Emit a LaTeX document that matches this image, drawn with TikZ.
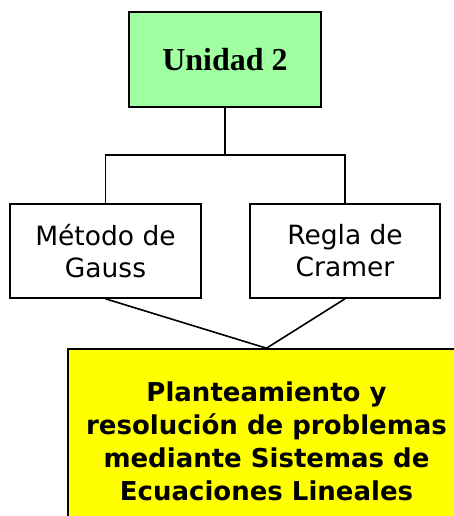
\documentclass[tikz,border=0pt]{standalone}
\usepackage{fontspec}
\setmainfont{DejaVu Sans}
\newfontfamily\unidadfont{Liberation Serif}
\definecolor{boxgreen}{RGB}{160,255,160}
\definecolor{boxyellow}{RGB}{255,255,0}
\begin{document}
\begin{tikzpicture}[x=1pt,y=-1pt,
  box/.style={draw=black, line width=1.6pt, rectangle, inner sep=0pt, align=center},
  conn/.style={draw=black, line width=1.6pt},
  boxtext/.style={font=\fontsize{26.5}{32}\selectfont},
  bigtext/.style={font=\bfseries\fontsize{26}{33}\selectfont}]
\useasboundingbox (0,0) rectangle (454,516);
\fill[white] (0,0) rectangle (454,516);
\begin{scope}
\clip (0,0) rectangle (454,516);
\node[box, fill=boxgreen, minimum width=192pt, minimum height=95pt,
      font=\unidadfont\bfseries\fontsize{32}{36}\selectfont] (u) at (225,59.5) {Unidad 2};
\node[box, boxtext, minimum width=191pt, minimum height=94pt] (g) at (105.5,251) {Método de\\Gauss};
\node[box, boxtext, minimum width=190pt, minimum height=94pt] (c) at (345,251) {Regla de\\Cramer};
\node[box, bigtext, fill=boxyellow, minimum width=397pt, minimum height=184pt] (p) at (266.5,441)
  {Planteamiento y\\resolución de problemas\\mediante Sistemas de\\Ecuaciones Lineales};
\coordinate (j) at (225,155);
\coordinate (jl) at (g.north |- j);
\coordinate (jr) at (c.north |- j);
\draw[conn] (u.south) -- (j);
\draw[conn] (g.north) -- (jl) -- (jr) -- (c.north);
\draw[conn] (g.south) -- (p.north) -- (c.south);
\end{scope}
\end{tikzpicture}
\end{document}
